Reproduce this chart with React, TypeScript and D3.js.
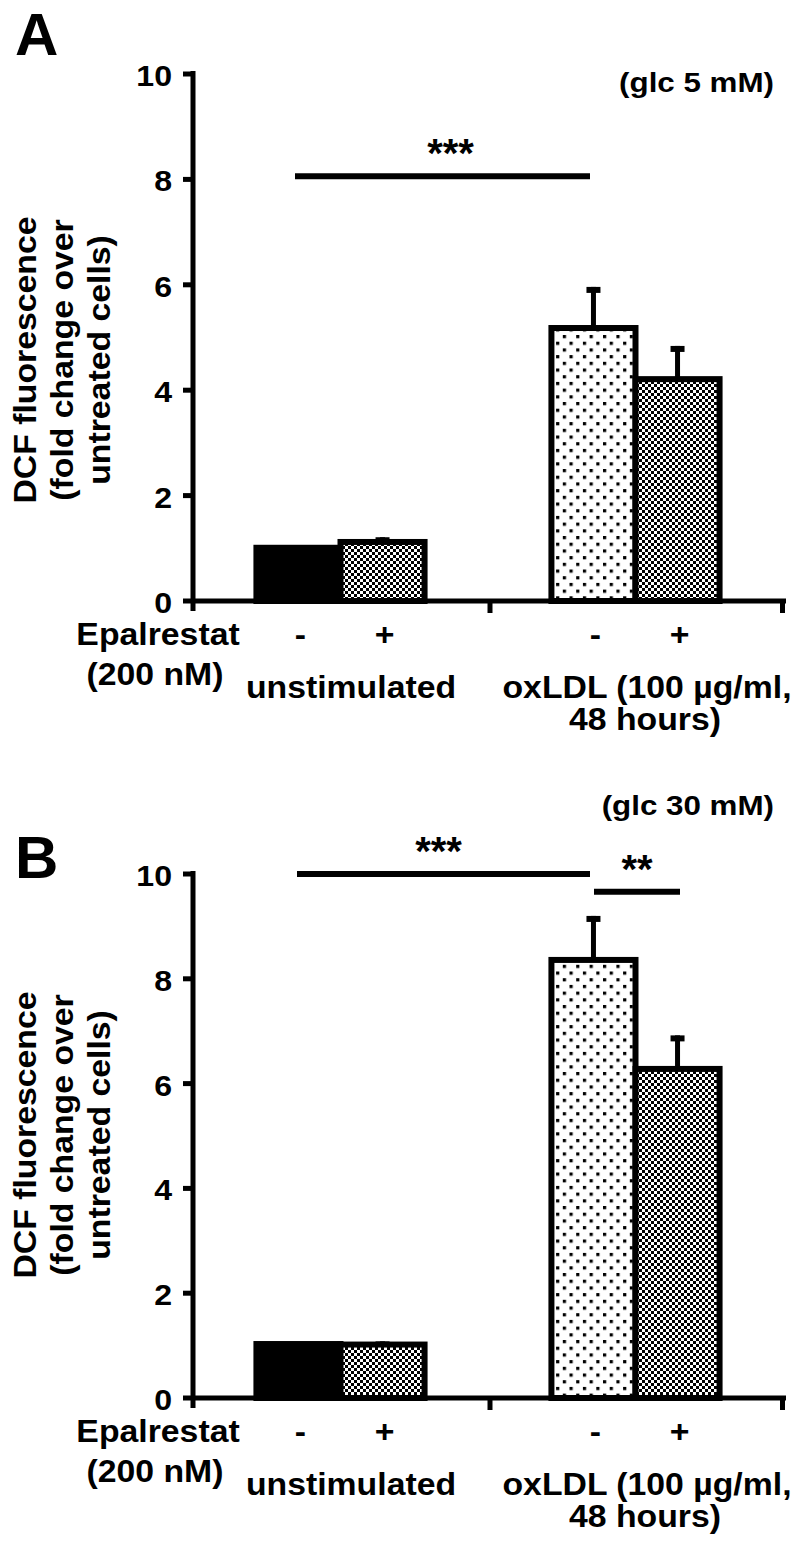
import React from "react";
import * as d3 from "d3";

const groups = ["unstimulated", "oxLDL (100 µg/ml,"];
const treatments = ["-", "+"];
const valuesA = [1.01, 1.12, 5.18, 4.21];
const errorsA = [0.0, 0.09, 0.78, 0.63];
const valuesB = [1.03, 1.02, 8.36, 6.28];
const errorsB = [0.0, 0.06, 0.84, 0.64];
const yTicks = [0, 2, 4, 6, 8, 10];
const fills = ["black", "url(#checker)", "url(#dots)", "url(#checker)"];

const FONT = "'Liberation Sans', Arial, sans-serif";

function T({ x, y, size = 31, sx = 1.09, anchor = "middle", rotate = 0, children }) {
  return (
    <text
      transform={`translate(${x},${y}) rotate(${rotate}) scale(${sx},1)`}
      textAnchor={anchor}
      fontSize={size}
    >
      {children}
    </text>
  );
}

function Panel({ values, errors, top, bottom, letter, letterY, glc, glcY, titleY, sigs }) {
  const y = d3.scaleLinear().domain([0, 10]).range([bottom, top]);
  const x = d3.scaleLinear().domain([0, 2]).range([193, 783]);
  const bw = 0.285;
  const bars = values.map((v, i) => {
    const g = Math.floor(i / 2);
    const t = i % 2;
    const x0 = x(g + 0.5 - bw + t * bw);
    const x1 = x(g + 0.5 + t * bw);
    return { v, e: errors[i], x0, x1, cx: (x0 + x1) / 2, fill: fills[i] };
  });
  const base = y(0);
  return (
    <g fontFamily={FONT} fontWeight="bold">
      <text x={15} y={letterY} fontSize={60}>{letter}</text>
      <T x={774} y={glcY} size={28.5} sx={1.1} anchor="end">{glc}</T>
      {/* y axis title */}
      {["DCF fluorescence", "(fold change over", "untreated cells)"].map((s, i) => (
        <T key={i} x={36 + i * 37} y={titleY} rotate={-90}>{s}</T>
      ))}
      {/* error bars */}
      {bars.map((b, i) =>
        b.e > 0 ? (
          <g key={"e" + i}>
            <line x1={b.cx} x2={b.cx} y1={y(b.v)} y2={y(b.v + b.e)} stroke="black" strokeWidth={5} />
            <rect x={b.cx - 7} y={y(b.v + b.e)} width={14} height={6} fill="black" />
          </g>
        ) : null
      )}
      {/* bars */}
      {bars.map((b, i) => (
        <rect key={i} x={b.x0} y={y(b.v)} width={b.x1 - b.x0} height={base - y(b.v)} fill={b.fill} stroke="black" strokeWidth={6} />
      ))}
      {/* y axis */}
      <line x1={193} x2={193} y1={y(10) - 3} y2={base + 10} stroke="black" strokeWidth={5} />
      {yTicks.map((t) => (
        <g key={t}>
          <line x1={183} x2={193} y1={y(t)} y2={y(t)} stroke="black" strokeWidth={5} />
          <T x={172} y={y(t) + 12} size={30} sx={1.07} anchor="end">{t}</T>
        </g>
      ))}
      {/* x axis */}
      <line x1={191} x2={786} y1={base} y2={base} stroke="black" strokeWidth={5} />
      {[1, 2].map((g) => (
        <line key={g} x1={x(g) - (g === 2 ? 0.5 : -2)} x2={x(g) - (g === 2 ? 0.5 : -2)} y1={base} y2={base + 12} stroke="black" strokeWidth={5} />
      ))}
      {/* significance */}
      {sigs.map((s, i) => (
        <g key={"s" + i}>
          <line x1={s.x0} x2={s.x1} y1={y(s.v)} y2={y(s.v)} stroke="black" strokeWidth={6} />
          <T x={(s.x0 + s.x1) / 2 + (s.dx || 0)} y={y(s.v) - 9} size={40} sx={1}>{s.label}</T>
        </g>
      ))}
      {/* x labels */}
      <T x={158} y={base + 44}>Epalrestat</T>
      <T x={155} y={base + 84}>(200 nM)</T>
      {bars.map((b, i) => (
        <T key={"t" + i} x={b.cx + 2} y={base + 44}>{treatments[i % 2]}</T>
      ))}
      <T x={351} y={base + 97}>{groups[0]}</T>
      <T x={647} y={base + 97}>{groups[1]}</T>
      <T x={645} y={base + 129}>48 hours)</T>
    </g>
  );
}

export default function App() {
  return (
    <svg width={800} height={1553} style={{ display: "block", margin: "-8px" }} viewBox="0 0 800 1553">
      <defs>
        <pattern id="checker" width={6} height={6} patternUnits="userSpaceOnUse">
          <rect width={6} height={6} fill="white" />
          <rect width={3} height={3} fill="black" />
          <rect x={3} y={3} width={3} height={3} fill="black" />
        </pattern>
        <pattern id="dots" width={13.4} height={13.4} patternUnits="userSpaceOnUse">
          <rect width={13.4} height={13.4} fill="white" />
          <rect x={0} y={0} width={3.2} height={3.2} fill="black" />
          <rect x={6.7} y={6.7} width={3.2} height={3.2} fill="black" />
        </pattern>
      </defs>
      <rect width={800} height={1553} fill="white" />
      <Panel
        values={valuesA}
        errors={errorsA}
        top={74}
        bottom={601}
        letter="A"
        letterY={55}
        glc="(glc 5 mM)"
        glcY={92}
        titleY={360}
        sigs={[{ x0: 295, x1: 590, v: 8.06, label: "***", dx: 8 }]}
      />
      <Panel
        values={valuesB}
        errors={errorsB}
        top={874}
        bottom={1398}
        letter="B"
        letterY={878}
        glc="(glc 30 mM)"
        glcY={815}
        titleY={1135}
        sigs={[
          { x0: 297, x1: 590, v: 10, label: "***", dx: -5 },
          { x0: 594, x1: 680, v: 9.66, label: "**", dx: 0 },
        ]}
      />
    </svg>
  );
}
